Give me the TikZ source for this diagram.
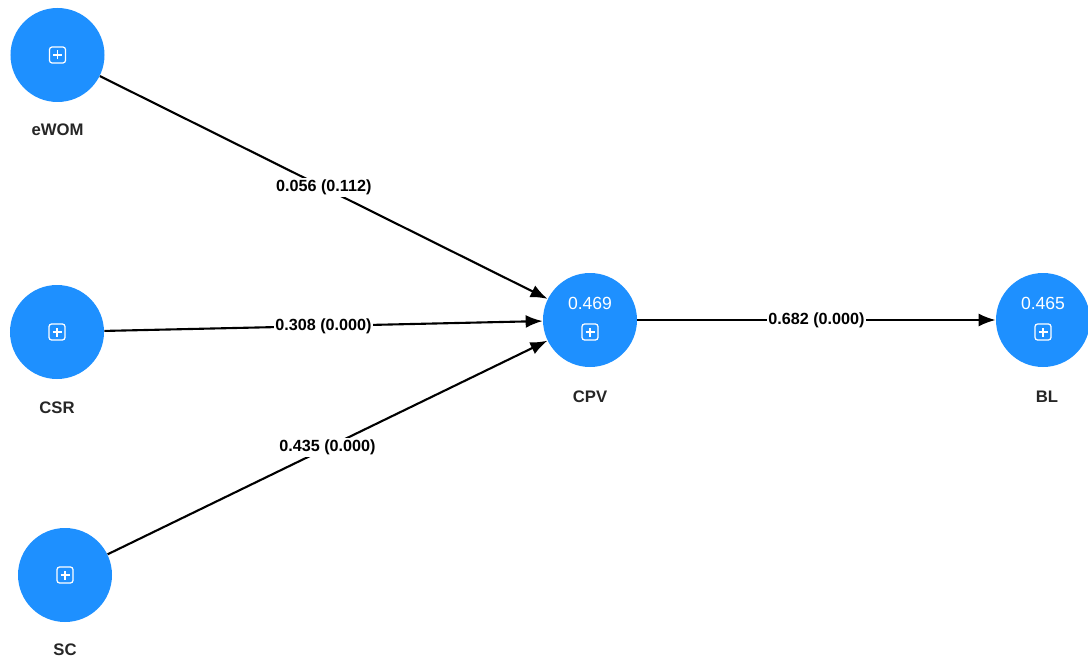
\documentclass[tikz,border=0pt]{standalone}
\usepackage{fontspec}
\setmainfont{Liberation Sans}
\usepackage{tikz}
\usetikzlibrary{shapes,arrows,positioning,calc,arrows.meta}

\definecolor{latent}{RGB}{30,144,255}

\tikzset{
    construct/.style={circle, fill=latent, minimum size=1.88cm, inner sep=0pt},
    cname/.style={font=\fontsize{9.5}{11}\selectfont\bfseries, text=black!85},
    rsq/.style={font=\fontsize{10}{12}\selectfont, text=white},
    path/.style={line width=1.2pt, -{Latex[length=3.4mm, width=2.6mm]}},
    weight/.style={midway, fill=white, inner sep=1pt, font=\fontsize{9.2}{11}\selectfont\bfseries},
    plusbox/.pic={
        \draw[white, line width=0.7pt, rounded corners=1.5pt] (-0.16,-0.16) rectangle (0.16,0.16);
        \draw[white, line width=0.7pt] (-0.09,0) -- (0.09,0) (0,-0.09) -- (0,0.09);
    }
}

\begin{document}
\begin{tikzpicture}
    \useasboundingbox (0,0) rectangle (21.76,13.18);

    % Exogenous constructs
    \node[construct] (ewom) at (1.15, 12.08) {};
    \node[construct] (csr) at (1.14, 6.54) {};
    \node[construct] (sc) at (1.30, 1.68) {};
    \pic at (ewom) {plusbox};
    \pic at (csr) {plusbox};
    \pic at (sc) {plusbox};
    \node[cname] (ewomlbl) at (1.15, 10.58) {eWOM};
    \node[cname] (csrlbl) at (1.14, 5.02) {CSR};
    \node[cname] (sclbl) at (1.30, 0.18) {SC};

    % Endogenous constructs
    \node[construct] (cpv) at (11.80, 6.78) {};
    \node[construct] (bl) at (20.86, 6.78) {};
    \node[rsq] (cpvr2) at ($(cpv)+(0,0.34)$) {0.469};
    \node[rsq] (blr2) at ($(bl)+(0,0.34)$) {0.465};
    \pic at ($(cpv)+(0,-0.24)$) {plusbox};
    \pic at ($(bl)+(0,-0.24)$) {plusbox};
    \node[cname] (cpvlbl) at (11.80, 5.24) {CPV};
    \node[cname] (bllbl) at (20.94, 5.24) {BL};

    % Paths
    \draw[path] (ewom) -- (cpv) node[weight] {0.056 (0.112)};
    \draw[path] (csr) -- (cpv) node[weight] {0.308 (0.000)};
    \draw[path] (sc) -- (cpv) node[weight] {0.435 (0.000)};
    \draw[path] (cpv) -- (bl) node[weight] {0.682 (0.000)};
\end{tikzpicture}
\end{document}
